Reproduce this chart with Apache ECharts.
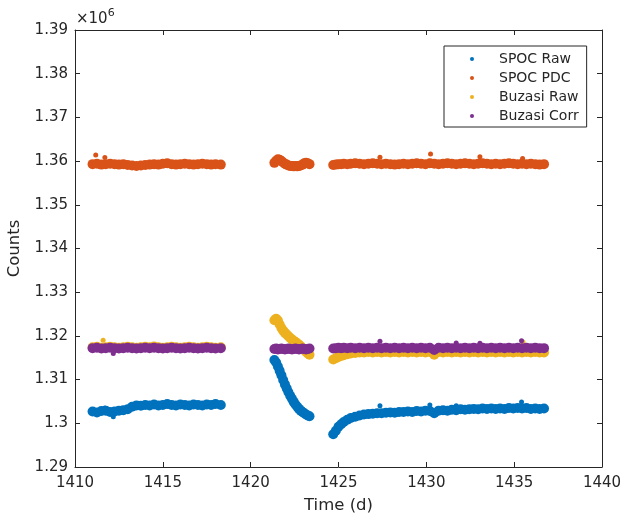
<!DOCTYPE html>
<html>
<head>
<meta charset="utf-8">
<script src="https://cdn.jsdelivr.net/npm/echarts@6/dist/echarts.min.js"></script>
<style>
html,body{margin:0;padding:0;background:#fff;}
#chart{width:625px;height:515px;}
</style>
</head>
<body>
<div id="chart"></div>
<script>
// Time stamps (days): segment 1, segment 2, segment 3
const time = [
  1411.0,1411.25,1411.5,1411.75,1412.0,1412.25,1412.5,1412.75,1413.0,1413.25,
  1413.5,1413.75,1414.0,1414.25,1414.5,1414.75,1415.0,1415.25,1415.5,1415.75,
  1416.0,1416.25,1416.5,1416.75,1417.0,1417.25,1417.5,1417.75,1418.0,1418.3,
  1421.35,1421.45,1421.55,1421.65,1421.75,1421.85,1421.95,1422.05,1422.15,1422.25,
  1422.35,1422.45,1422.55,1422.65,1422.75,1422.85,1422.95,1423.05,1423.15,1423.25,1423.35,
  1424.7,1424.85,1425.0,1425.15,1425.3,1425.5,1425.7,1425.95,1426.2,1426.45,
  1426.7,1426.95,1427.2,1427.45,1427.7,1427.95,1428.2,1428.45,1428.7,1428.95,
  1429.2,1429.45,1429.7,1429.95,1430.2,1430.45,1430.7,1430.95,1431.2,1431.45,
  1431.7,1431.95,1432.2,1432.45,1432.7,1432.95,1433.2,1433.45,1433.7,1433.95,
  1434.2,1434.45,1434.7,1434.95,1435.2,1435.45,1435.7,1435.95,1436.2,1436.45,1436.7
];

const spocRaw = [
  1302700,1302500,1302800,1302900,1302600,1302700,1302900,1303000,1303200,1303800,
  1304100,1304000,1304200,1304100,1304300,1304100,1304200,1304400,1304200,1304100,
  1304300,1304200,1304100,1304300,1304200,1304100,1304300,1304200,1304400,1304200,
  1314500,1313900,1313000,1312000,1311000,1309900,1308900,1308000,1307100,1306300,
  1305600,1304900,1304300,1303800,1303300,1302900,1302600,1302300,1302000,1301800,1301600,
  1297500,1298300,1299200,1299800,1300300,1300800,1301200,1301500,1301800,1302000,
  1302100,1302200,1302300,1302300,1302400,1302500,1302400,1302600,1302600,1302700,
  1302600,1302800,1302700,1302900,1302800,1302300,1302900,1303000,1302900,1303100,
  1303000,1303200,1303100,1303200,1303300,1303200,1303400,1303300,1303400,1303300,
  1303400,1303300,1303500,1303400,1303500,1303400,1303500,1303300,1303400,1303300,1303400
];
const spocRawOutT = [1411.7,1412.18,1427.36,1430.2,1431.7,1435.42];
const spocRawOutV = [1303500,1301500,1304000,1304200,1304000,1304900];

const spocPdc = [
  1359300,1359400,1359200,1359300,1359400,1359300,1359200,1359300,1359100,1359000,
  1358900,1359000,1359100,1359200,1359300,1359200,1359400,1359500,1359300,1359200,
  1359300,1359400,1359300,1359200,1359300,1359400,1359300,1359200,1359300,1359200,
  1359600,1360100,1360400,1360300,1360000,1359700,1359400,1359200,1359000,1358900,
  1358900,1358800,1358900,1358800,1358900,1359000,1359200,1359500,1359600,1359500,1359300,
  1359100,1359200,1359300,1359300,1359400,1359300,1359400,1359500,1359400,1359300,
  1359400,1359500,1359400,1359300,1359400,1359300,1359200,1359300,1359400,1359300,
  1359400,1359500,1359400,1359300,1359500,1359400,1359300,1359400,1359500,1359400,
  1359300,1359400,1359500,1359400,1359300,1359400,1359500,1359400,1359300,1359400,
  1359300,1359400,1359500,1359400,1359300,1359400,1359300,1359400,1359300,1359200,1359300
];
const spocPdcOutT = [1411.18,1411.7,1427.36,1430.24,1433.05,1435.48];
const spocPdcOutV = [1361400,1360800,1360900,1361600,1361000,1360600];

const buzasiRaw = [
  1317400,1317500,1317300,1317400,1317500,1317400,1317300,1317400,1317500,1317400,
  1317300,1317400,1317500,1317400,1317600,1317400,1317300,1317400,1317500,1317400,
  1317300,1317400,1317500,1317400,1317300,1317400,1317500,1317400,1317300,1317400,
  1323600,1323900,1323500,1322600,1321800,1321200,1320700,1320300,1319900,1319500,
  1319200,1318900,1318600,1318300,1318000,1317600,1317200,1316800,1316400,1316000,1315700,
  1314600,1314900,1315200,1315400,1315600,1315800,1316000,1316100,1316200,1316200,
  1316300,1316200,1316300,1316200,1316300,1316200,1316300,1316200,1316300,1316200,
  1316300,1316200,1316300,1316200,1316300,1315700,1316300,1316200,1316300,1316200,
  1316300,1316200,1316300,1316200,1316300,1316200,1316300,1316200,1316300,1316200,
  1316300,1316200,1316300,1316200,1316300,1316200,1316300,1316200,1316300,1316200,1316200
];
const buzasiRawOutT = [1411.6,1435.5];
const buzasiRawOutV = [1319000,1318600];

const buzasiCorr = [
  1317200,1317300,1317100,1317200,1317300,1317200,1317100,1317200,1317300,1317200,
  1317100,1317200,1317300,1317200,1317300,1317200,1317100,1317200,1317300,1317200,
  1317100,1317200,1317300,1317200,1317100,1317200,1317300,1317200,1317100,1317200,
  1317000,1317100,1316900,1317000,1317100,1317000,1316900,1317000,1317100,1317000,
  1316900,1317000,1317100,1317000,1316900,1317000,1317100,1317000,1316900,1317000,1317100,
  1317100,1317200,1317300,1317200,1317300,1317200,1317300,1317200,1317300,1317200,
  1317300,1317200,1317300,1317200,1317300,1317200,1317300,1317200,1317300,1317200,
  1317300,1317200,1317300,1317200,1317300,1316800,1317300,1317200,1317300,1317200,
  1317300,1317200,1317300,1317200,1317300,1317200,1317300,1317200,1317300,1317200,
  1317300,1317200,1317300,1317200,1317300,1317200,1317300,1317200,1317300,1317200,1317200
];
const buzasiCorrOutT = [1412.18,1427.36,1431.7,1433.05,1435.42];
const buzasiCorrOutV = [1316000,1318800,1318400,1318300,1318900];

const seriesNames = ['SPOC Raw','SPOC PDC','Buzasi Raw','Buzasi Corr'];
const colors = ['#0072BD','#D95319','#EDB120','#7E2F8E'];
const xTicks = [1410, 1440, 5];
const yTicks = [1290000, 1390000, 10000];

function build(vals, outT, outV) {
  const d = time.map((t, i) => [t, vals[i]]);
  outT.forEach((t, i) => d.push([t, outV[i]]));
  return d;
}
const allData = [
  build(spocRaw, spocRawOutT, spocRawOutV),
  build(spocPdc, spocPdcOutT, spocPdcOutV),
  build(buzasiRaw, buzasiRawOutT, buzasiRawOutV),
  build(buzasiCorr, buzasiCorrOutT, buzasiCorrOutV)
];

const FONT = 'DejaVu Sans';
const TXT = '#262626';
const axisLineStyle = { color: TXT, width: 1 };

const chart = echarts.init(document.getElementById('chart'), null, { renderer: 'canvas' });
const baseX = {
  type: 'value', min: xTicks[0], max: xTicks[1], interval: xTicks[2],
  axisLine: { show: true, onZero: false, lineStyle: axisLineStyle },
  axisTick: { show: true, inside: true, length: 5, lineStyle: axisLineStyle },
  splitLine: { show: false }
};
const baseY = {
  type: 'value', min: yTicks[0], max: yTicks[1], interval: yTicks[2],
  axisLine: { show: true, onZero: false, lineStyle: axisLineStyle },
  axisTick: { show: true, inside: true, length: 5, lineStyle: axisLineStyle },
  splitLine: { show: false }
};

chart.setOption({
  animation: false,
  backgroundColor: '#ffffff',
  textStyle: { fontFamily: FONT },
  grid: { left: 75, right: 23, top: 30, bottom: 48, containLabel: false, outerBoundsMode: 'none' },
  xAxis: [
    Object.assign({}, baseX, {
      position: 'bottom',
      name: 'Time (d)', nameLocation: 'middle', nameGap: 30,
      nameTextStyle: { fontSize: 16.5, color: TXT, fontFamily: FONT },
      axisLabel: { show: true, margin: 9, fontSize: 15, color: TXT, fontFamily: FONT,
        formatter: v => String(v) }
    }),
    Object.assign({}, baseX, { position: 'top', axisLabel: { show: false } })
  ],
  yAxis: [
    Object.assign({}, baseY, {
      position: 'left',
      name: 'Counts', nameLocation: 'middle', nameGap: 48, nameRotate: 90,
      nameTextStyle: { fontSize: 16.5, color: TXT, fontFamily: FONT },
      axisLabel: {
        show: true, margin: 7, fontSize: 15, color: TXT, fontFamily: FONT,
        formatter: v => String(+(v / 1e6).toFixed(2))
      }
    }),
    Object.assign({}, baseY, { position: 'right', axisLabel: { show: false } })
  ],
  legend: {
    orient: 'vertical', left: 444, top: 46,
    padding: [6, 8, 4, 26], itemGap: 5,
    itemWidth: 4, itemHeight: 4, icon: 'circle',
    borderColor: TXT, borderWidth: 1, backgroundColor: '#ffffff',
    textStyle: { fontSize: 14, color: TXT, fontFamily: FONT, lineHeight: 13, padding: [0, 0, 0, 20] },
    data: seriesNames
  },
  graphic: [{
    type: 'text', left: 76, top: 8,
    style: {
      text: '{a|×10}{b|6}',
      rich: {
        a: { fontSize: 15, fill: TXT, fontFamily: FONT, verticalAlign: 'bottom' },
        b: { fontSize: 11, fill: TXT, fontFamily: FONT, verticalAlign: 'top', padding: [0, 0, 8, 0] }
      }
    }
  }],
  series: allData.map((d, k) => ({
    name: seriesNames[k],
    type: 'scatter',
    xAxisIndex: 0, yAxisIndex: 0,
    data: d,
    symbol: 'circle',
    symbolSize: (v, p) => (p.dataIndex >= time.length ? 5 : 10),
    itemStyle: { color: colors[k], opacity: 1 },
    emphasis: { disabled: true },
    silent: true,
    z: 2 + k
  }))
});
</script>
</body>
</html>
